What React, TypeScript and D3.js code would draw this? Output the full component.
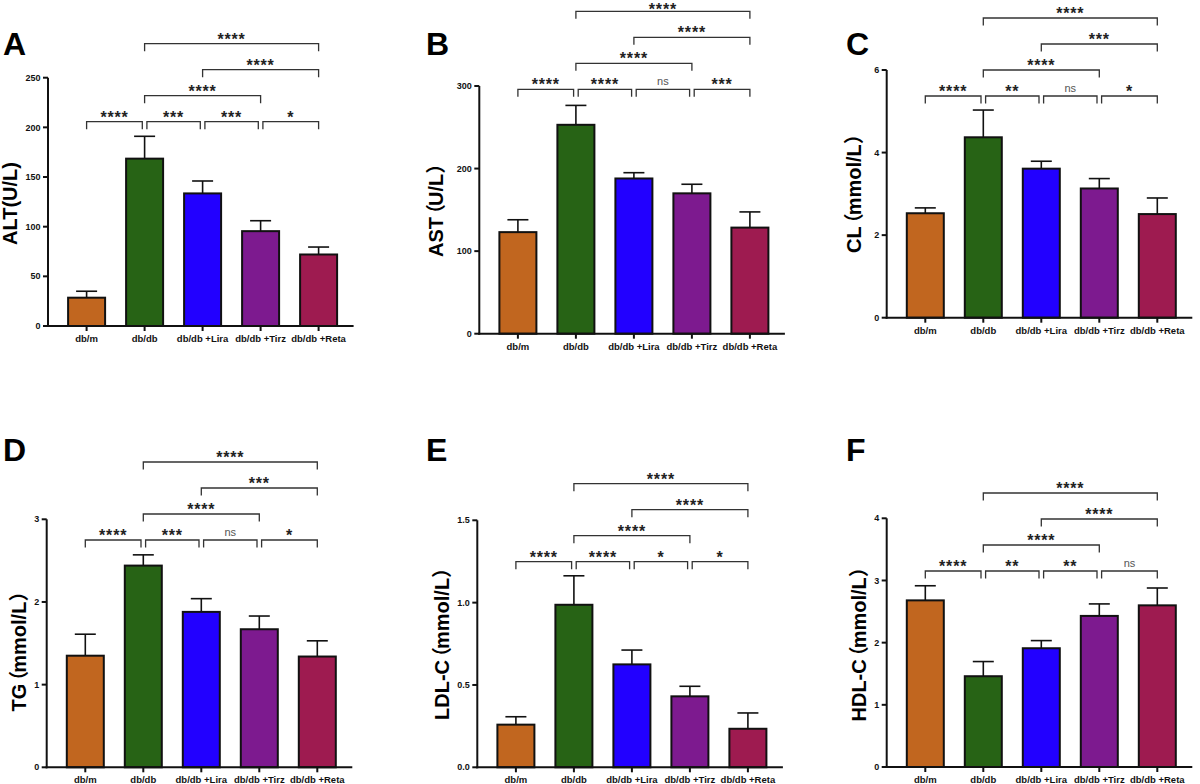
import React from "react";
import * as d3 from "d3";

// Groups shown on every panel
const categories = ["db/m", "db/db", "db/db +Lira", "db/db +Tirz", "db/db +Reta"];

// ALT (U/L)
const altMean = [28.5, 168.5, 133.5, 95.5, 72.0];
const altErr = [6.5, 22.5, 12.5, 10.5, 7.5];
const altTicks = [0, 50, 100, 150, 200, 250];
const altSig = ["****", "***", "***", "*", "****", "****", "****"];

// AST (U/L)
const astMean = [123, 253, 188, 170, 128.5];
const astErr = [15, 23.5, 7, 11, 19];
const astTicks = [0, 100, 200, 300];
const astSig = ["****", "****", "ns", "***", "****", "****", "****"];

// CL (mmol/L)
const clMean = [2.53, 4.37, 3.61, 3.13, 2.51];
const clErr = [0.13, 0.66, 0.18, 0.24, 0.39];
const clTicks = [0, 2, 4, 6];
const clSig = ["****", "**", "ns", "*", "****", "***", "****"];

// TG (mmol/L)
const tgMean = [1.35, 2.44, 1.88, 1.67, 1.34];
const tgErr = [0.26, 0.13, 0.16, 0.16, 0.19];
const tgTicks = [0, 1, 2, 3];
const tgSig = ["****", "***", "ns", "*", "****", "***", "****"];

// LDL-C (mmol/L)
const ldlMean = [0.259, 0.987, 0.625, 0.431, 0.234];
const ldlErr = [0.048, 0.176, 0.087, 0.061, 0.096];
const ldlTicks = [0, 0.5, 1.0, 1.5];
const ldlSig = ["****", "****", "*", "*", "****", "****", "****"];

// HDL-C (mmol/L)
const hdlMean = [2.68, 1.46, 1.91, 2.43, 2.6];
const hdlErr = [0.235, 0.236, 0.123, 0.193, 0.279];
const hdlTicks = [0, 1, 2, 3, 4];
const hdlSig = ["****", "**", "**", "ns", "****", "****", "****"];

// Pairwise comparisons (group indices) and the bracket row each one sits on
const pairs: [number, number][] = [[0, 1], [1, 2], [2, 3], [3, 4], [1, 3], [2, 4], [1, 4]];
const pairRows = [0, 0, 0, 0, 1, 2, 3];

const barColors = ["#C1661F", "#276315", "#2200FF", "#7D1A8F", "#9E1B50"];

const FONT = "'Liberation Sans', Arial, Helvetica, 'Noto Sans CJK SC', sans-serif";

type PanelCfg = {
  letter: string;
  measure: string;
  unit: string;
  wideParens: boolean;
  mean: number[];
  err: number[];
  ticks: number[];
  sig: string[];
  fmt: (v: number) => string;
  ox: number;
  y0: number;
  yTop: number;
  row0: number;
  labelX: number;
  labelStart: number;
  letterX: number;
  letterY: number;
};

const intFmt = (v: number) => d3.format("d")(v);

const panels: PanelCfg[] = [
  { letter: "A", measure: "ALT", unit: "U/L", wideParens: false, mean: altMean, err: altErr, ticks: altTicks,
    sig: altSig, fmt: intFmt,
    ox: 48, y0: 326, yTop: 77.7, row0: 121.7, labelX: 16.5, labelStart: 245, letterX: 3, letterY: 55 },
  { letter: "B", measure: "AST", unit: "U/L", wideParens: true, mean: astMean, err: astErr, ticks: astTicks,
    sig: astSig, fmt: intFmt,
    ox: 479.3, y0: 333.7, yTop: 86, row0: 89.3, labelX: 442.5, labelStart: 257, letterX: 426, letterY: 55 },
  { letter: "C", measure: "CL", unit: "mmol/L", wideParens: true, mean: clMean, err: clErr, ticks: clTicks,
    sig: clSig, fmt: intFmt,
    ox: 886.7, y0: 317.7, yTop: 70, row0: 96, labelX: 861, labelStart: 253, letterX: 846, letterY: 55 },
  { letter: "D", measure: "TG", unit: "mmol/L", wideParens: true, mean: tgMean, err: tgErr, ticks: tgTicks,
    sig: tgSig, fmt: intFmt,
    ox: 46.7, y0: 767.3, yTop: 519.3, row0: 540, labelX: 26, labelStart: 711.5, letterX: 3, letterY: 461 },
  { letter: "E", measure: "LDL-C", unit: "mmol/L", wideParens: true, mean: ldlMean, err: ldlErr, ticks: ldlTicks,
    sig: ldlSig, fmt: (v) => d3.format(".1f")(v),
    ox: 477.3, y0: 767.3, yTop: 520.3, row0: 561.7, labelX: 449.3, labelStart: 720, letterX: 426, letterY: 461 },
  { letter: "F", measure: "HDL-C", unit: "mmol/L", wideParens: true, mean: hdlMean, err: hdlErr, ticks: hdlTicks,
    sig: hdlSig, fmt: intFmt,
    ox: 886.7, y0: 767, yTop: 518.3, row0: 571, labelX: 866, labelStart: 721.5, letterX: 846, letterY: 461 },
];

const STEP = 58;
const FIRST = 38.6;
const BAR_W = 37;
const CAP_W = 21;
const ROW_GAP = 26;
const DROP = 7.5;

function YTitle({ cfg }: { cfg: PanelCfg }) {
  const common = {
    transform: `translate(${cfg.labelX},${cfg.labelStart}) rotate(-90)`,
    textAnchor: "start" as const,
    fontSize: 20,
    fontWeight: 700,
    fill: "#000",
  };
  if (!cfg.wideParens) {
    return <text {...common}>{`${cfg.measure}(${cfg.unit})`}</text>;
  }
  // full-width brackets carry a lot of side bearing; pull the pieces together
  return (
    <text {...common}>
      {cfg.measure}
      <tspan dx={-7}>（</tspan>
      <tspan dx={-2}>{cfg.unit}</tspan>
      <tspan dx={0}>）</tspan>
    </text>
  );
}

function Panel({ cfg }: { cfg: PanelCfg }) {
  const { ox, y0, yTop } = cfg;
  const y = d3.scaleLinear().domain([0, d3.max(cfg.ticks) as number]).range([y0, yTop]);
  const x = d3
    .scalePoint<string>()
    .domain(categories)
    .range([ox + FIRST, ox + FIRST + STEP * (categories.length - 1)]);
  const axisEnd = ox + FIRST + STEP * (categories.length - 1) + 35;

  return (
    <g fontFamily={FONT}>
      {/* panel letter */}
      <text x={cfg.letterX} y={cfg.letterY} fontSize={32} fontWeight={700} fill="#000">
        {cfg.letter}
      </text>

      <YTitle cfg={cfg} />

      {/* bars with upper error bars */}
      {cfg.mean.map((m, i) => {
        const cx = x(categories[i]) as number;
        const top = y(m + cfg.err[i]);
        return (
          <g key={i}>
            <line x1={cx} x2={cx} y1={y(m)} y2={top} stroke="#111" strokeWidth={1.6} />
            <line x1={cx - CAP_W / 2} x2={cx + CAP_W / 2} y1={top} y2={top} stroke="#111" strokeWidth={1.6} />
            <rect x={cx - BAR_W / 2} y={y(m)} width={BAR_W} height={y(0) - y(m)}
              fill={barColors[i]} stroke="#111" strokeWidth={2} />
          </g>
        );
      })}

      {/* y axis */}
      <line x1={ox} x2={ox} y1={y0 + 1} y2={yTop} stroke="#111" strokeWidth={2} />
      {cfg.ticks.map((t) => (
        <g key={t}>
          <line x1={ox - 5} x2={ox} y1={y(t)} y2={y(t)} stroke="#111" strokeWidth={2} />
          <text x={ox - 7.5} y={y(t)} dy="0.35em" textAnchor="end" fontSize={9} fontWeight={700} fill="#111">
            {cfg.fmt(t)}
          </text>
        </g>
      ))}

      {/* x axis */}
      <line x1={ox - 1} x2={axisEnd} y1={y0} y2={y0} stroke="#111" strokeWidth={2} />
      {categories.map((c) => {
        const cx = x(c) as number;
        return (
          <g key={c}>
            <line x1={cx} x2={cx} y1={y0} y2={y0 + 5} stroke="#111" strokeWidth={2} />
            <text x={cx} y={y0 + 16} textAnchor="middle" fontSize={9.5} fontWeight={700} fill="#111">
              {c}
            </text>
          </g>
        );
      })}

      {/* significance brackets */}
      {pairs.map(([a, b], k) => {
        const row = pairRows[k];
        const by = cfg.row0 - row * ROW_GAP;
        let x1 = x(categories[a]) as number;
        let x2 = x(categories[b]) as number;
        if (row === 0) {
          if (a > 0) x1 += 2.3;
          if (b < categories.length - 1) x2 -= 2.3;
        }
        const label = cfg.sig[k];
        const isNs = label === "ns";
        // keep the stars of the highest bracket inside the page
        const starY = Math.max(by + 1, 15);
        return (
          <g key={k}>
            <path d={`M${x1},${by + DROP}V${by}H${x2}V${by + DROP}`} fill="none" stroke="#333" strokeWidth={1.3} />
            {isNs ? (
              <text x={(x1 + x2) / 2} y={by - 4.5} textAnchor="middle" fontSize={11} fill="#555">
                ns
              </text>
            ) : (
              <text x={(x1 + x2) / 2} y={starY} textAnchor="middle" fontSize={16} fontWeight={700}
                letterSpacing={0.8} fill="#222">
                {label}
              </text>
            )}
          </g>
        );
      })}
    </g>
  );
}

export default function App() {
  return (
    <svg
      width={1200}
      height={784}
      viewBox="0 0 1200 784"
      style={{ position: "absolute", left: 0, top: 0, background: "#fff" }}
    >
      <rect width={1200} height={784} fill="#fff" />
      {panels.map((p) => (
        <Panel key={p.letter} cfg={p} />
      ))}
    </svg>
  );
}
